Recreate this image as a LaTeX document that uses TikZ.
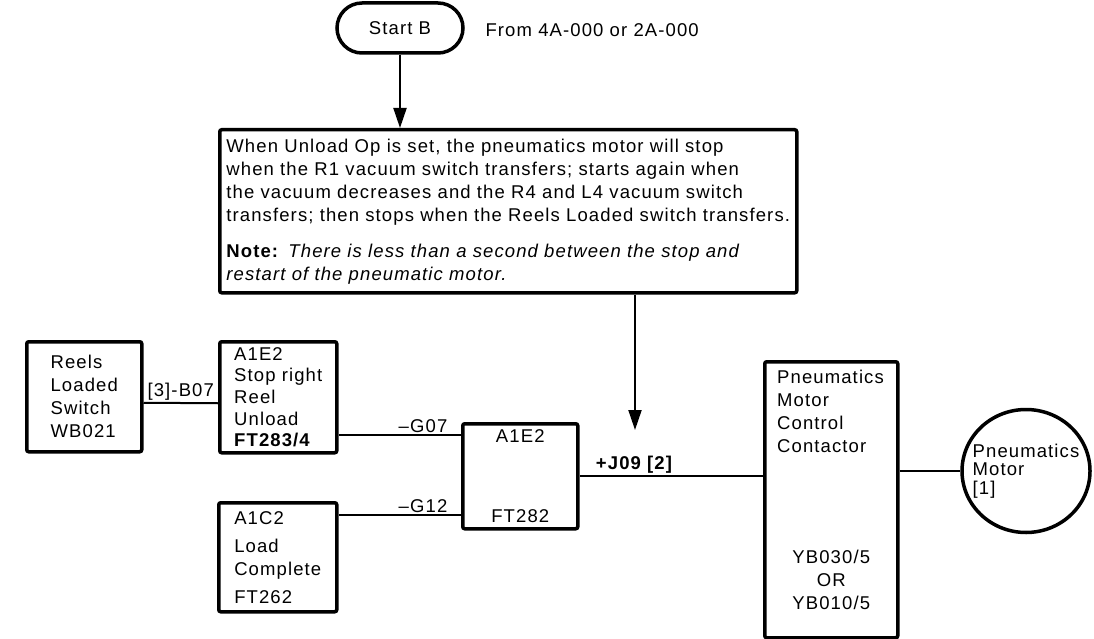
\documentclass[tikz,border=0pt]{standalone}
\usepackage{fontspec}
\setmainfont[LetterSpace=6]{Liberation Sans}
\usetikzlibrary{arrows.meta,shapes.geometric}

\tikzset{
  box/.style={draw, line width=3.5pt, rounded corners=2pt, inner sep=0pt, anchor=north west, align=left},
  wire/.style={line width=2pt},
  flow/.style={line width=2pt, -{Triangle[length=20pt,width=13pt]}},
  pin/.style={above, inner sep=1.5pt}
}

\begin{document}
\begin{tikzpicture}[x=1pt, y=-1pt, font=\fontsize{18.5}{23}\selectfont]
    \useasboundingbox (0,0) rectangle (1094,639);

    % Start terminal
    \node[draw, line width=3.5pt, rounded corners=25pt, minimum width=126pt, minimum height=50pt] (start) at (400,28) {Start B};
    \node[anchor=west] (from) at (482,30) {From 4A-000 or 2A-000};

    % Description block
    \node[box, minimum width=577pt, minimum height=163pt] (note) at (218,128) {When Unload Op is set, the pneumatics motor will stop\\
        when the R1 vacuum switch transfers; starts again when\\
        the vacuum decreases and the R4 and L4 vacuum switch\\
        transfers; then stops when the Reels Loaded switch transfers.\\[13pt]
        \textbf{Note:}\enspace\textit{There is less than a second between the stop and}\\
        \textit{restart of the pneumatic motor.}};
    \draw[flow] (start.south) -- (start.south |- note.north);

    \coordinate (stopend) at (635,430);
    \draw[flow] (note.south -| stopend) -- (stopend);

    % Left side
    \node[box, minimum width=115pt, minimum height=110pt] (reels) at (25,340) {Reels\\Loaded\\Switch\\WB021};
    \node[box, minimum width=117pt, minimum height=111pt, font=\fontsize{18.5}{21.7}\selectfont] (stopreel) at (218,340) {A1E2\\Stop right\\Reel\\Unload\\\textbf{FT283/4}};
    \node[box, minimum width=118pt, minimum height=109pt] (loaddone) at (217,501) {A1C2\\[5pt]Load\\Complete\\[5pt]FT262};
    \node[box, align=center, minimum width=115pt, minimum height=105pt] (decide) at (461,422) {A1E2\\[57pt]FT282};

    \draw[wire] ([yshift=-6pt]reels.east) -- ([yshift=-6pt]stopreel.west) node[pin, midway] (b07) {[3]-B07};

    \coordinate (g07a) at ([yshift=-37.5pt]stopreel.east);
    \draw[wire] (g07a) -- (g07a -| decide.west) node[pin, pos=0.69] (g07) {--G07};
    \coordinate (g12a) at ([yshift=42.5pt]loaddone.east);
    \draw[wire] (g12a) -- (g12a -| decide.west) node[pin, pos=0.69] (g12) {--G12};

    % Right side
    \node[box, minimum width=133pt, minimum height=276pt] (contactor) at (763,360) {};
    \node[anchor=north west, align=left, inner sep=0pt] (ctltext) at ([xshift=14pt,yshift=-10pt]contactor.north west) {Pneumatics\\Motor\\Control\\Contactor};
    \node[anchor=south, align=center, inner sep=0pt] (ybtext) at ([yshift=30pt]contactor.south) {YB030/5\\OR\\YB010/5};

    \draw[wire] (decide.east) -- (decide.east -| contactor.west) node[pin, pos=0.3] (j09) {\textbf{+J09 [2]}};

    \node[draw, ellipse, line width=3.5pt, minimum width=128pt, minimum height=123pt, inner sep=0pt] (motor) at (1026,471) {};
    \node[align=left, inner sep=0pt, font=\fontsize{18.5}{18.5}\selectfont] (motortext) at (motor.center) {Pneumatics\\Motor\\{}[1]};
    \draw[wire] (motor.west -| contactor.east) -- (motor.west);

\end{tikzpicture}
\end{document}
